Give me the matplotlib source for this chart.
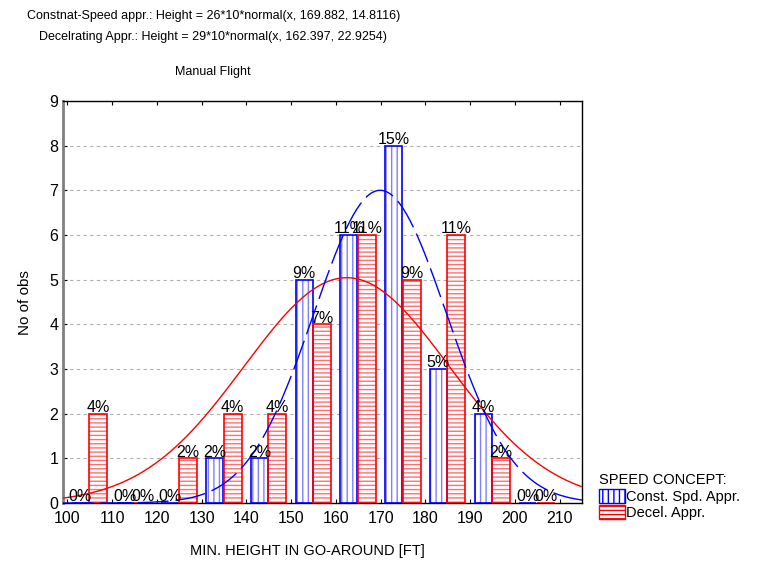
import numpy as np
import matplotlib
matplotlib.use("Agg")
import matplotlib.pyplot as plt
from matplotlib.patches import Patch

plt.rcParams['font.family'] = ['Liberation Sans', 'DejaVu Sans']
plt.rcParams['hatch.linewidth'] = 1.0

# histogram data (bins of width 10 ft, from 100 to 210)
bin_starts = [100, 110, 120, 130, 140, 150, 160, 170, 180, 190, 200]
const_counts = [0, 0, 0, 1, 1, 5, 6, 8, 3, 2, 0]
decel_counts = [2, 0, 1, 2, 2, 4, 6, 5, 6, 1, 0]
n_total = sum(const_counts) + sum(decel_counts)

# fitted normals stated in the chart header
const_n, const_mean, const_sd = 26, 169.882, 14.8116
decel_n, decel_mean, decel_sd = 29, 162.397, 22.9254

title_lines = [
    "Constnat-Speed appr.: Height = 26*10*normal(x, 169.882, 14.8116)",
    "Decelrating Appr.: Height = 29*10*normal(x, 162.397, 22.9254)",
]


def normal_curve(x, n, mu, sd):
    return n * 10 * np.exp(-0.5 * ((x - mu) / sd) ** 2) / (sd * np.sqrt(2 * np.pi))


fig = plt.figure(figsize=(7.75, 5.65), dpi=100)
ax = fig.add_axes([0.0813, 0.1097, 0.6697, 0.7113])

centers = np.array(bin_starts) + 5
blue_x = centers - 2.1
red_x = centers + 1.9

# hatch layer then outline layer
ax.bar(blue_x, const_counts, width=3.8, color='white', edgecolor='#8080ff',
       hatch='|||', linewidth=0, zorder=2)
ax.bar(blue_x, const_counts, width=3.8, fill=False, edgecolor='#0000ff',
       linewidth=1.2, zorder=3)
ax.bar(red_x, decel_counts, width=4.0, color='white', edgecolor='#ff7070',
       hatch='----', linewidth=0, zorder=2)
ax.bar(red_x, decel_counts, width=4.0, fill=False, edgecolor='#ff0000',
       linewidth=1.2, zorder=3)

for xs, counts in [(blue_x, const_counts), (red_x, decel_counts)]:
    for x, c in zip(xs, counts):
        ax.text(x, c - 0.03, f"{c / n_total * 100:.0f}%", ha='center', va='bottom',
                fontsize=11.5, zorder=5)

xs = np.linspace(99, 215, 300)
ax.plot(xs, normal_curve(xs, decel_n, decel_mean, decel_sd), color='#ff0000',
        linewidth=1, zorder=4)
ax.plot(xs, normal_curve(xs, const_n, const_mean, const_sd), color='#0000ff',
        linewidth=1, dashes=(22, 5), zorder=4)

ax.set_xlim(99, 215)
ax.set_ylim(0, 9)
ax.set_xticks(range(100, 211, 10))
ax.set_yticks(range(0, 10))
ax.tick_params(axis='both', labelsize=11.5, direction='in', length=3,
               top=True, right=False)
ax.tick_params(axis='x', pad=6)
ax.yaxis.grid(True, linestyle=(0, (3, 3)), color='#b0b0b0', linewidth=0.8)
ax.set_axisbelow(True)
for side in ['top', 'right', 'bottom']:
    ax.spines[side].set_color('black')
    ax.spines[side].set_linewidth(1)
ax.spines['left'].set_color('#808080')
ax.spines['left'].set_linewidth(2)

ax.set_ylabel("No of obs", fontsize=11, labelpad=12)
fig.text(0.397, 0.025, "MIN. HEIGHT IN GO-AROUND [FT]", ha='center', va='center',
         fontsize=10.5)

fig.text(0.275, 0.972, title_lines[0], ha='center', va='center', fontsize=9)
fig.text(0.275, 0.935, title_lines[1], ha='center', va='center', fontsize=9)
fig.text(0.275, 0.873, "Manual Flight", ha='center', va='center', fontsize=9)

handles = [
    Patch(facecolor='white', edgecolor='#0000ff', hatch='|||', label='Const. Spd. Appr.'),
    Patch(facecolor='white', edgecolor='#ff0000', hatch='----', label='Decel. Appr.'),
]
leg = fig.legend(handles=handles, title="SPEED CONCEPT:", loc='upper left',
                 bbox_to_anchor=(0.763, 0.175), frameon=False, fontsize=10.5,
                 title_fontsize=10.5, handlelength=1.8, handleheight=1.1,
                 handletextpad=0.1, labelspacing=0.1, borderpad=0, alignment='left')

fig.savefig("out.png", dpi=100)
